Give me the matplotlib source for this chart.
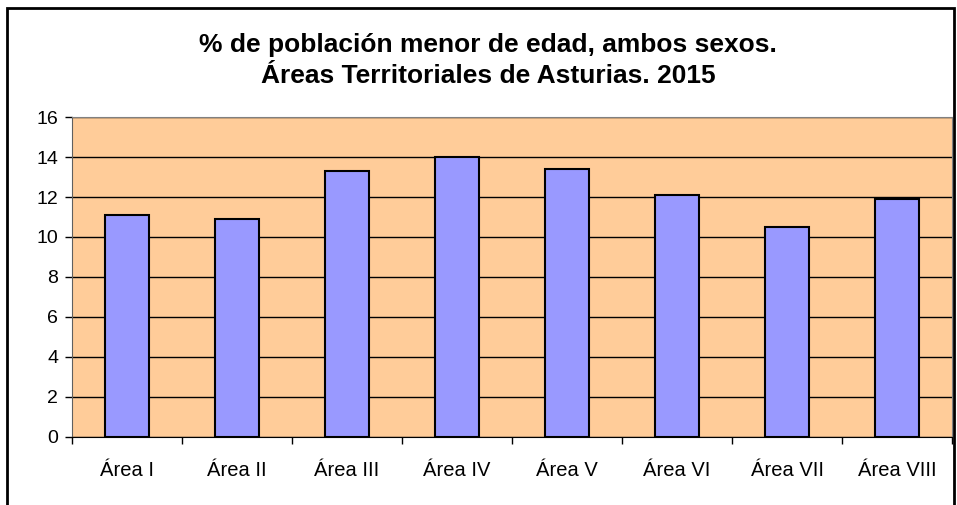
import numpy as np
import matplotlib.pyplot as plt
from matplotlib.patches import Rectangle

plt.rcParams['font.family'] = ['Liberation Sans', 'DejaVu Sans']

areas = ['Área I', 'Área II', 'Área III', 'Área IV', 'Área V', 'Área VI', 'Área VII', 'Área VIII']
pct_menores = [11.1, 10.9, 13.3, 14.0, 13.4, 12.1, 10.5, 11.9]
y_ticks = [0, 2, 4, 6, 8, 10, 12, 14, 16]

fig = plt.figure(figsize=(9.57, 5.05), dpi=100)
ax = fig.add_axes([0.0752, 0.1347, 0.9196, 0.6336])

x = np.arange(len(areas))
ax.set_facecolor('#FFCC99')
ax.yaxis.grid(True, color='black', linewidth=1)
ax.set_axisbelow(True)
ax.bar(x, pct_menores, width=0.4, color='#9999FF', edgecolor='black', linewidth=1.5, zorder=3)

ax.set_xlim(-0.5, len(areas) - 0.5)
ax.set_ylim(0, 16)
ax.set_yticks(y_ticks)
ax.set_xticks(x)
ax.set_xticklabels(areas)
ax.set_xticks(np.arange(len(areas) + 1) - 0.5, minor=True)
ax.tick_params(axis='x', which='major', length=0, labelsize=14.5, pad=17)
ax.tick_params(axis='x', which='minor', length=5, width=1, direction='out')
ax.tick_params(axis='y', length=5, width=1, direction='out', labelsize=14, pad=5)

ax.spines['top'].set_color('#808080')
ax.spines['right'].set_color('#808080')
ax.spines['left'].set_color('#606060')
ax.spines['bottom'].set_color('black')

fig.text(0.51, 1 - 52 / 505, '% de población menor de edad, ambos sexos.',
         ha='center', va='baseline', fontsize=19, fontweight='bold')
fig.text(0.51, 1 - 83 / 505, 'Áreas Territoriales de Asturias. 2015',
         ha='center', va='baseline', fontsize=19, fontweight='bold')

# marco exterior del grafico
fig.patches.append(Rectangle((7 / 957, -0.1), 947 / 957, 1.1 - 8 / 505,
                             transform=fig.transFigure, fill=False,
                             edgecolor='black', linewidth=2))

fig.savefig('out.png', dpi=100)
